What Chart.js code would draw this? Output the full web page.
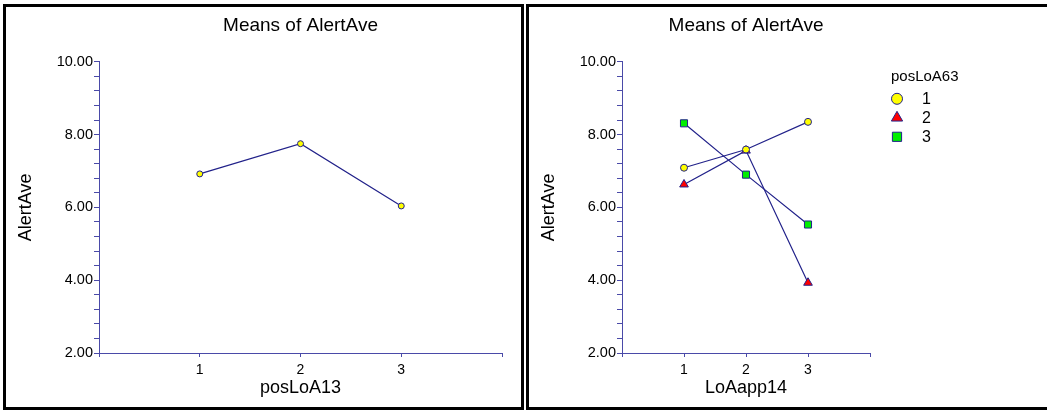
<!DOCTYPE html>
<html>
<head>
<meta charset="utf-8">
<script src="https://cdn.jsdelivr.net/npm/chart.js@4/dist/chart.umd.min.js"></script>
<style>
  html, body { margin: 0; padding: 0; background: #fff; overflow: hidden; }
  .panel { position: absolute; top: 4px; height: 406px; border: 3px solid #000; box-sizing: border-box; background: #fff; }
  #leftPanel { left: 3px; width: 521px; }
  #rightPanel { left: 526px; width: 530px; }
  canvas { display: block; }
</style>
</head>
<body>
<div class="panel" id="leftPanel"><canvas id="leftChart" width="515" height="400"></canvas></div>
<div class="panel" id="rightPanel"><canvas id="rightChart" width="515" height="400"></canvas></div>
<script>
// data
const chartTitle = 'Means of AlertAve';
const yAxisTitle = 'AlertAve';
const yTickLabels = ['2.00', '4.00', '6.00', '8.00', '10.00'];
const xTickLabels = ['1', '2', '3'];

const leftXTitle = 'posLoA13';
const leftCategories = [1, 2, 3];
const leftMeans = [6.92, 7.75, 6.04];

const rightXTitle = 'LoAapp14';
const legendTitle = 'posLoA63';
const rightCategories = [1, 2, 3];
const seriesNames = ['1', '2', '3'];
const series1 = [7.09, 7.59, 8.35];
const series2 = [6.63, 7.56, 3.93];
const series3 = [8.31, 6.90, 5.53];

const FONT = '"Liberation Sans", Arial, Helvetica, sans-serif';
const AXIS = '#4a4aa8';
const LINE = '#22228a';

Chart.defaults.font.family = FONT;
Chart.defaults.color = '#000';

function toPoints(xs, ys) {
    return xs.map((x, i) => ({ x: x, y: ys[i] }));
}

function yLabel(value) {
    const r = Math.round(value);
    if (Math.abs(value - r) > 1e-6) return '';
    const idx = (r - 2) / 2;
    return Number.isInteger(idx) && yTickLabels[idx] ? yTickLabels[idx] : '';
}

function xLabel(value) {
    return xTickLabels[value - 1] || '';
}

function baseOptions(xTitle, yWidth, padRight) {
    return {
        responsive: false,
        animation: false,
        layout: { padding: { left: 0, right: padRight, top: 0, bottom: 0 } },
        plugins: {
            legend: { display: false },
            tooltip: { enabled: false },
            title: {
                display: true,
                text: chartTitle,
                fullSize: false,
                color: '#000',
                font: { size: 19, weight: 'normal', family: FONT },
                padding: { top: 7, bottom: 25 }
            }
        },
        scales: {
            x: {
                type: 'linear',
                min: 0,
                max: 4,
                afterFit: (s) => { s.height = 54; },
                border: { color: AXIS, width: 1 },
                grid: { drawOnChartArea: false, color: AXIS, tickLength: 4 },
                ticks: { stepSize: 1, autoSkip: false, padding: 5, maxRotation: 0, font: { size: 14 }, callback: xLabel },
                title: { display: true, text: xTitle, font: { size: 18 }, padding: { top: 0, bottom: 8 } }
            },
            y: {
                min: 2,
                max: 10,
                afterFit: (s) => { s.width = yWidth; },
                border: { color: AXIS, width: 1 },
                grid: { drawOnChartArea: false, color: AXIS, tickLength: 5 },
                ticks: { stepSize: 0.4, autoSkip: false, padding: 1, font: { size: 14.5 }, callback: yLabel },
                title: { display: true, text: yAxisTitle, font: { size: 18 }, padding: { top: 9, bottom: 0 } }
            }
        }
    };
}

function lineSet(label, xs, ys, style, fill, radius) {
    return {
        label: label,
        data: toPoints(xs, ys),
        borderColor: LINE,
        borderWidth: 1.2,
        pointStyle: style,
        pointRadius: radius,
        pointBackgroundColor: fill,
        pointBorderColor: LINE,
        pointBorderWidth: 1,
        fill: false,
        tension: 0
    };
}

// legend drawn beside the plot, like the original
const sideLegend = {
    id: 'sideLegend',
    afterDraw(chart) {
        const ctx = chart.ctx;
        const left = chart.chartArea.right + 21;
        const top = chart.chartArea.top;
        const sizes = [5.5, 6.5, 6.5];
        ctx.save();
        ctx.textBaseline = 'middle';
        ctx.textAlign = 'left';
        ctx.font = '15px ' + FONT;
        ctx.fillStyle = '#000';
        ctx.fillText(legendTitle, left, top + 15);
        chart.data.datasets.forEach((ds, i) => {
            const y = top + 37 + i * 19;
            ctx.fillStyle = ds.pointBackgroundColor;
            ctx.strokeStyle = LINE;
            ctx.lineWidth = 1;
            Chart.helpers.drawPoint(ctx, { pointStyle: ds.pointStyle, radius: sizes[i], borderWidth: 1, rotation: 0 }, left + 6, y);
            ctx.fillStyle = '#000';
            ctx.font = '16px ' + FONT;
            ctx.fillText(ds.label, left + 31, y + 1);
        });
        ctx.restore();
    }
};

new Chart(document.getElementById('leftChart'), {
    type: 'line',
    data: {
        datasets: [lineSet('means', leftCategories, leftMeans, 'circle', '#ffff00', 3)]
    },
    options: baseOptions(leftXTitle, 93, 19)
});

new Chart(document.getElementById('rightChart'), {
    type: 'line',
    data: {
        datasets: [
            lineSet(seriesNames[0], rightCategories, series1, 'circle', '#ffff00', 3.5),
            lineSet(seriesNames[1], rightCategories, series2, 'triangle', '#ff0000', 5),
            lineSet(seriesNames[2], rightCategories, series3, 'rect', '#00ee00', 5)
        ]
    },
    options: baseOptions(rightXTitle, 93, 174),
    plugins: [sideLegend]
});
</script>
</body>
</html>
